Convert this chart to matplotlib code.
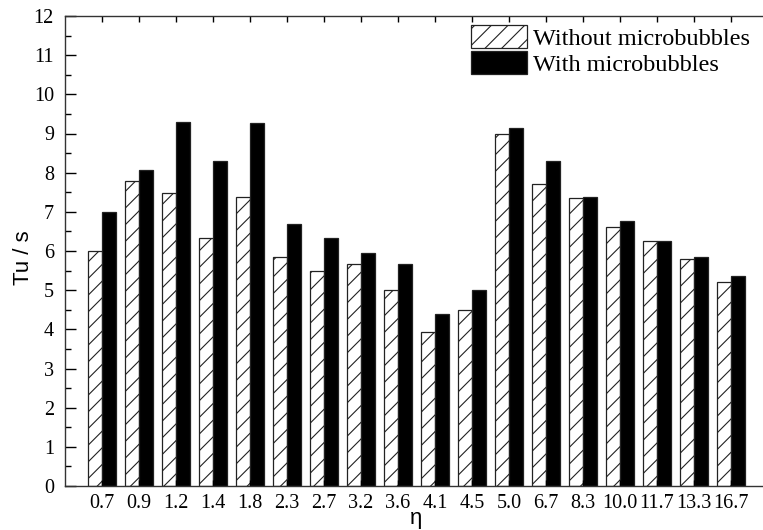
import numpy as np
import matplotlib.pyplot as plt
from matplotlib.ticker import MultipleLocator

# eta values and Tu (s) for the two cases
eta = ['0.7', '0.9', '1.2', '1.4', '1.8', '2.3', '2.7', '3.2', '3.6',
       '4.1', '4.5', '5.0', '6.7', '8.3', '10.0', '11.7', '13.3', '16.7']
tu_without = [6.0, 7.78, 7.49, 6.34, 7.37, 5.85, 5.49, 5.66, 5.0,
              3.92, 4.5, 9.0, 7.7, 7.35, 6.62, 6.25, 5.79, 5.22]
tu_with = [7.0, 8.08, 9.29, 8.29, 9.28, 6.7, 6.32, 5.94, 5.67,
           4.4, 5.01, 9.14, 8.29, 7.38, 6.76, 6.25, 5.85, 5.35]

plt.rcParams['hatch.linewidth'] = 0.8
serif = ['Liberation Serif', 'DejaVu Serif']
sans = ['Liberation Sans', 'DejaVu Sans']

fig = plt.figure(figsize=(7.63, 5.30), dpi=100)
ax = fig.add_axes([65/763, 44/530, 703/763, 470/530])

x = np.arange(len(eta))
w = 0.385
ax.bar(x - w/2, tu_without, w, color='white', edgecolor='#222222',
       linewidth=0.9, hatch='//', label='Without microbubbles')
ax.bar(x + w/2, tu_with, w, color='black', edgecolor='#222222',
       linewidth=0.9, label='With microbubbles')

ax.set_xlim(-1, 18)
ax.set_ylim(0, 12)
ax.spines['right'].set_visible(False)
for s in ['left', 'top', 'bottom']:
    ax.spines[s].set_linewidth(1.0)
    ax.spines[s].set_color('#333333')

ax.set_xticks(x)
ax.set_xticklabels(eta, fontfamily=serif, fontsize=14.5)
ax.yaxis.set_major_locator(MultipleLocator(1))
ax.yaxis.set_minor_locator(MultipleLocator(0.5))
for lab in ax.get_yticklabels():
    lab.set_fontfamily(serif)
    lab.set_fontsize(14.5)
ax.tick_params(axis='y', which='major', direction='in', length=8, width=1,
               pad=8, right=False)
ax.tick_params(axis='y', which='minor', direction='in', length=4, width=1,
               right=False)
ax.tick_params(axis='x', which='major', direction='in', length=4, width=1,
               top=True, pad=6)

ax.set_ylabel('Tu / s', fontfamily=sans, fontsize=16)
ax.yaxis.set_label_coords(-31/703, 0.485)
ax.set_xlabel('η', fontfamily=sans, fontsize=16, labelpad=-4)

ax.legend(loc='upper left', bbox_to_anchor=(471/763, 1 - 25/530),
          bbox_transform=fig.transFigure, frameon=False, borderpad=0,
          prop={'family': serif, 'size': 17.5}, handlelength=2.3,
          handleheight=1.1, handletextpad=0.25, labelspacing=0.05,
          borderaxespad=0)

fig.savefig('out.png', dpi=100)
